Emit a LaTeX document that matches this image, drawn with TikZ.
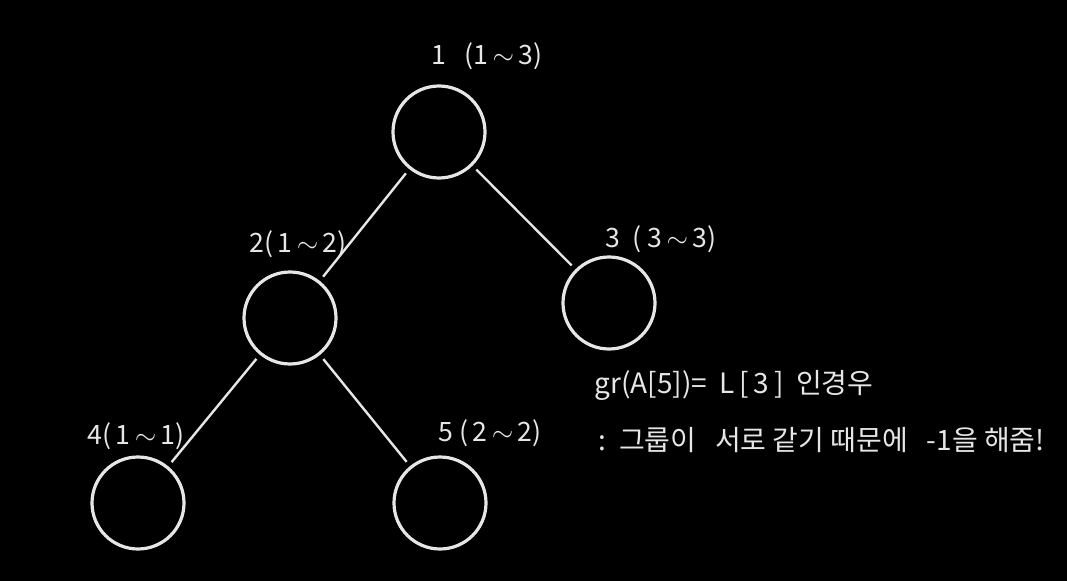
\documentclass[tikz,border=0pt]{standalone}
\usepackage{fontspec}
\setmainfont{Noto Sans CJK KR}
\definecolor{chalk}{HTML}{E6E6E6}
\tikzset{
  vertex/.style={circle, draw=chalk, line width=2.4pt, minimum size=69pt, inner sep=0pt},
  edge/.style={draw=chalk, line width=1.8pt, shorten >=4pt, shorten <=4pt},
  tag/.style={text=chalk, font=\fontsize{20}{24}\selectfont},
  note/.style={text=chalk, font=\fontsize{21}{26}\selectfont, anchor=west}
}
\begin{document}
\begin{tikzpicture}[x=0.75pt, y=-0.75pt]
    % background
    \fill[black] (0,0) rectangle (1067,581);
    \useasboundingbox (0,0) rectangle (1067,581);

    % vertices
    \node[vertex] (n1) at (439,132) {};
    \node[vertex] (n2) at (290,318) {};
    \node[vertex] (n3) at (609,303) {};
    \node[vertex] (n4) at (138,503) {};
    \node[vertex] (n5) at (440,503) {};

    % ranges
    \node[tag] (l1) at (487,56) {1\ \ \ (1\,$\sim$\,3)};
    \node[tag] (l2) at (298,244) {2(\,1\,$\sim$\,2)};
    \node[tag] (l3) at (661,239) {3\ \ (\ 3\,$\sim$\,3)};
    \node[tag] (l4) at (136,436) {4(\,1\,$\sim$\,1)};
    \node[tag] (l5) at (490,433) {5\ (\,2\,$\sim$\,2)};

    % edges
    \draw[edge] (n1) -- (n2);
    \draw[edge] (n1) -- (n3);
    \draw[edge] (n2) -- (n4);
    \draw[edge] (n2) -- (n5);

    % note
    \node[note] (t1) at (590,385) {gr(A[5])=\ \ L\,[\,3\,]\ \ 인경우};
    \node[note] (t2) at (594,440) {:\ \ 그룹이\ \ \ 서로 같기 때문에\ \ \ -1을 해줌!};
\end{tikzpicture}
\end{document}
